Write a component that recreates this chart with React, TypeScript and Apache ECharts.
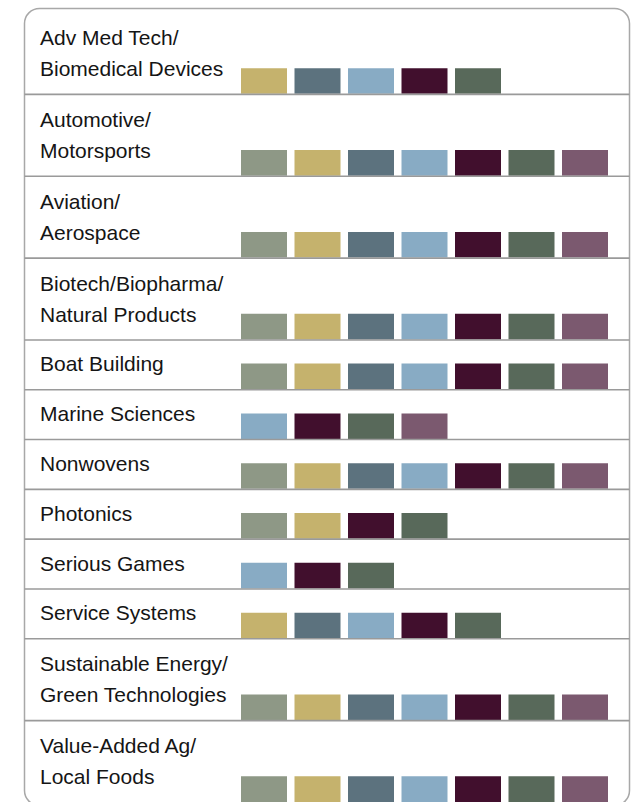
import React, { useEffect, useRef } from "react";
import * as echarts from "echarts";

// ---- data ----
const categories: string[] = [
  "Adv Med Tech/\nBiomedical Devices",
  "Automotive/\nMotorsports",
  "Aviation/\nAerospace",
  "Biotech/Biopharma/\nNatural Products",
  "Boat Building",
  "Marine Sciences",
  "Nonwovens",
  "Photonics",
  "Serious Games",
  "Service Systems",
  "Sustainable Energy/\nGreen Technologies",
  "Value-Added Ag/\nLocal Foods",
];

// indices of the 7 colour groups present in each row
const memberships: number[][] = [
  [1, 2, 3, 4, 5],
  [0, 1, 2, 3, 4, 5, 6],
  [0, 1, 2, 3, 4, 5, 6],
  [0, 1, 2, 3, 4, 5, 6],
  [0, 1, 2, 3, 4, 5, 6],
  [3, 4, 5, 6],
  [0, 1, 2, 3, 4, 5, 6],
  [0, 1, 4, 5],
  [3, 4, 5],
  [1, 2, 3, 4, 5],
  [0, 1, 2, 3, 4, 5, 6],
  [0, 1, 2, 3, 4, 5, 6],
];

const slotCount = 7;

// ---- styles / layout ----
const palette = ["#8e9886", "#c5b26d", "#5c727e", "#88abc4", "#410f2d", "#58695a", "#7b596f"];
const ROW_H_TWO = 83;
const ROW_H_ONE = 50.5;
const GRID_TOP = 12;
const GRID_LEFT = 241;
const SLOT_PX = 53.5;
const SQ_W = 46;
const SQ_H = 26;
const LABEL_X = 40;
const FONT_SIZE = 21;
const FONT = "'Liberation Sans', Arial, sans-serif";
const CENTRAL_OFFSET = 7.3; // alphabetic baseline -> central baseline

export default function App() {
  const ref = useRef<HTMLDivElement>(null);

  useEffect(() => {
    document.body.style.margin = "0";
    if (!ref.current) return;
    const chart = echarts.init(ref.current, undefined, { renderer: "svg" });

    const lines = categories.map((c) => c.split("\n"));
    const heights = lines.map((l) => (l.length > 1 ? ROW_H_TWO : ROW_H_ONE));
    const bottoms: number[] = [];
    let acc = 0;
    heights.forEach((h) => {
      acc += h;
      bottoms.push(acc);
    });
    const total = acc;

    const squareData: number[][] = [];
    memberships.forEach((m, row) => {
      m.forEach((colorIdx, slot) => {
        squareData.push([slot, row, colorIdx]);
      });
    });
    const rowData = categories.map((_, i) => [0, i]);

    const option: any = {
      animation: false,
      grid: {
        left: GRID_LEFT,
        top: GRID_TOP,
        width: SLOT_PX * slotCount,
        height: total,
      },
      xAxis: { type: "value", min: 0, max: slotCount, show: false },
      yAxis: { type: "value", min: 0, max: total, inverse: true, show: false },
      graphic: [
        {
          type: "rect",
          z: 0,
          shape: { x: 24.5, y: 8.5, width: 605, height: 797, r: 15 },
          style: { fill: "none", stroke: "#a8a8a8", lineWidth: 1.5 },
        },
      ],
      series: [
        {
          type: "custom",
          z: 2,
          data: squareData,
          renderItem: (params: any, api: any) => {
            const slot = api.value(0);
            const row = api.value(1);
            const colorIdx = api.value(2);
            const p = api.coord([slot, bottoms[row]]);
            const size = api.size([SQ_W / SLOT_PX, SQ_H]);
            return {
              type: "rect",
              shape: { x: p[0], y: p[1] - size[1], width: size[0], height: size[1] },
              style: { fill: palette[colorIdx] },
            };
          },
        },
        {
          type: "custom",
          z: 3,
          data: rowData,
          renderItem: (params: any, api: any) => {
            const row = api.value(1);
            const p = api.coord([0, bottoms[row]]);
            const ls = lines[row];
            const children: any[] = ls.map((t, i) => ({
              type: "text",
              style: {
                text: t,
                x: LABEL_X,
                y: p[1] - 18 - (ls.length - 1 - i) * 31 - CENTRAL_OFFSET,
                fill: "#151515",
                fontSize: FONT_SIZE,
                fontFamily: FONT,
                verticalAlign: "middle",
                align: "left",
              },
            }));
            if (row < categories.length - 1) {
              children.push({
                type: "line",
                shape: { x1: 24.5, y1: p[1] + 0.5, x2: 629.5, y2: p[1] + 0.5 },
                style: { stroke: "#9a9a9a", lineWidth: 1.6 },
              });
            }
            return { type: "group", children };
          },
        },
      ],
    };
    chart.setOption(option);
    return () => chart.dispose();
  }, []);

  return <div ref={ref} style={{ width: 635, height: 802 }} />;
}
